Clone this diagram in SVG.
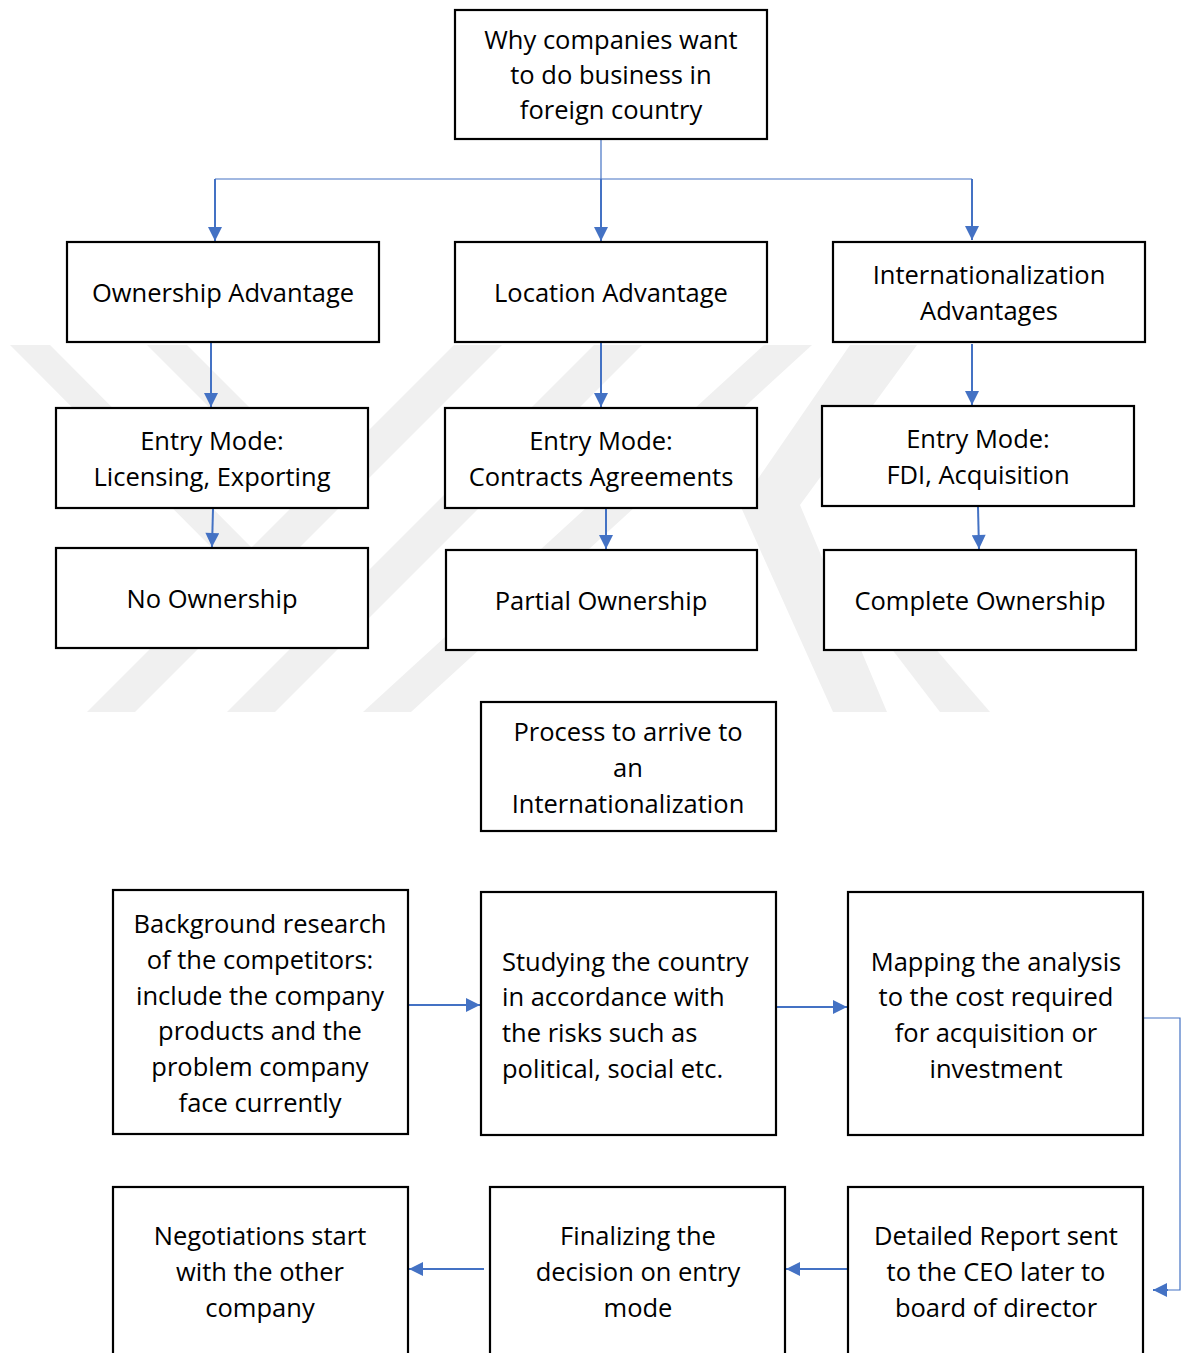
<svg xmlns="http://www.w3.org/2000/svg" width="1181" height="1353" viewBox="0 0 1181 1353">
<defs>
<style>
.box{fill:#fff;stroke:#000;stroke-width:2.2}
.t{font-family:"Open Sans","Noto Sans",sans-serif;font-size:25.5px;fill:#000;text-anchor:middle}
.tl{font-family:"Open Sans","Noto Sans",sans-serif;font-size:25.5px;fill:#000;text-anchor:start}
.c{stroke:#4472C4;stroke-width:2;fill:none}
.thin{stroke:#4472C4;stroke-width:1.2;fill:none}
.wm{fill:#f0f0f0}
</style>
<marker id="ah2" viewBox="0 0 10 10" refX="10" refY="5" markerWidth="7.5" markerHeight="7" orient="auto">
<path d="M0,0 L10,5 L0,10 z" fill="#4472C4"/>
</marker>
</defs>
<rect width="1181" height="1353" fill="#fff"/>
<g id="watermark">
<polygon class="wm" points="10,345 50,345 274,570 234,570"/>
<polygon class="wm" points="147,345 187,345 343,501 303,501"/>
<polygon class="wm" points="87,712 135,712 502,345 454,345"/>
<polygon class="wm" points="227,712 275,712 642,345 594,345"/>
<polygon class="wm" points="363,712 411,712 812,345 764,345"/>
<polygon class="wm" points="850,345 917,345 800,505 887,712 833,712 740,505"/>
<polygon class="wm" points="862,610 902,610 990,712 940,712"/>
</g>
<g id="connectors">
<line class="thin" x1="601" y1="139" x2="601" y2="179"/>
<line class="thin" x1="215" y1="179" x2="972" y2="179"/>
<line class="c" x1="215" y1="179" x2="215" y2="241" marker-end="url(#ah2)"/>
<line class="c" x1="601" y1="179" x2="601" y2="241" marker-end="url(#ah2)"/>
<line class="c" x1="972" y1="179" x2="972" y2="240" marker-end="url(#ah2)"/>
<line class="c" x1="211" y1="343" x2="211" y2="407" marker-end="url(#ah2)"/>
<line class="c" x1="601" y1="343" x2="601" y2="407" marker-end="url(#ah2)"/>
<line class="c" x1="972" y1="344" x2="972" y2="405" marker-end="url(#ah2)"/>
<line class="c" x1="213" y1="509" x2="212" y2="547" marker-end="url(#ah2)"/>
<line class="c" x1="606" y1="509" x2="606" y2="549" marker-end="url(#ah2)"/>
<line class="c" x1="978" y1="507" x2="979" y2="549" marker-end="url(#ah2)"/>
<line class="c" x1="409" y1="1005" x2="480" y2="1005" marker-end="url(#ah2)"/>
<line class="c" x1="777" y1="1007" x2="847" y2="1007" marker-end="url(#ah2)"/>
<polyline class="thin" points="1144,1018 1180,1018 1180,1290 1166,1290"/>
<line class="c" x1="1168" y1="1290" x2="1153" y2="1290" marker-end="url(#ah2)"/>
<line class="c" x1="847" y1="1269" x2="786" y2="1269" marker-end="url(#ah2)"/>
<line class="c" x1="484" y1="1269" x2="409" y2="1269" marker-end="url(#ah2)"/>
</g>
<g id="n-why"><rect class="box" x="455" y="10" width="312" height="129"/>
<text class="t" x="611" y="49">Why companies want</text><text class="t" x="611" y="84">to do business in</text><text class="t" x="611" y="119">foreign country</text></g>
<g id="n-ownership"><rect class="box" x="67" y="242" width="312" height="100"/>
<text class="t" x="223" y="302">Ownership Advantage</text></g>
<g id="n-location"><rect class="box" x="455" y="242" width="312" height="100"/>
<text class="t" x="611" y="302">Location Advantage</text></g>
<g id="n-intl"><rect class="box" x="833" y="242" width="312" height="100"/>
<text class="t" x="989" y="284">Internationalization</text><text class="t" x="989" y="320">Advantages</text></g>
<g id="n-entry1"><rect class="box" x="56" y="408" width="312" height="100"/>
<text class="t" x="212" y="450">Entry Mode:</text><text class="t" x="212" y="486">Licensing, Exporting</text></g>
<g id="n-entry2"><rect class="box" x="445" y="408" width="312" height="100"/>
<text class="t" x="601" y="450">Entry Mode:</text><text class="t" x="601" y="486">Contracts Agreements</text></g>
<g id="n-entry3"><rect class="box" x="822" y="406" width="312" height="100"/>
<text class="t" x="978" y="448">Entry Mode:</text><text class="t" x="978" y="484">FDI, Acquisition</text></g>
<g id="n-no"><rect class="box" x="56" y="548" width="312" height="100"/>
<text class="t" x="212" y="608">No Ownership</text></g>
<g id="n-partial"><rect class="box" x="446" y="550" width="311" height="100"/>
<text class="t" x="601" y="610">Partial Ownership</text></g>
<g id="n-complete"><rect class="box" x="824" y="550" width="312" height="100"/>
<text class="t" x="980" y="610">Complete Ownership</text></g>
<g id="n-process"><rect class="box" x="481" y="702" width="295" height="129"/>
<text class="t" x="628" y="741">Process to arrive to</text><text class="t" x="628" y="777">an</text><text class="t" x="628" y="813">Internationalization</text></g>
<g id="n-background"><rect class="box" x="113" y="890" width="295" height="244"/>
<text class="t" x="260" y="933">Background research</text><text class="t" x="260" y="969">of the competitors:</text><text class="t" x="260" y="1005">include the company</text><text class="t" x="260" y="1040">products and the</text><text class="t" x="260" y="1076">problem company</text><text class="t" x="260" y="1112">face currently</text></g>
<g id="n-studying"><rect class="box" x="481" y="892" width="295" height="243"/>
<text class="tl" x="502" y="971">Studying the country</text><text class="tl" x="502" y="1006">in accordance with</text><text class="tl" x="502" y="1042">the risks such as</text><text class="tl" x="502" y="1078">political, social etc.</text></g>
<g id="n-mapping"><rect class="box" x="848" y="892" width="295" height="243"/>
<text class="t" x="996" y="971">Mapping the analysis</text><text class="t" x="996" y="1006">to the cost required</text><text class="t" x="996" y="1042">for acquisition or</text><text class="t" x="996" y="1078">investment</text></g>
<g id="n-negotiations"><rect class="box" x="113" y="1187" width="295" height="200"/>
<text class="t" x="260" y="1245">Negotiations start</text><text class="t" x="260" y="1281">with the other</text><text class="t" x="260" y="1317">company</text></g>
<g id="n-finalizing"><rect class="box" x="490" y="1187" width="295" height="200"/>
<text class="t" x="638" y="1245">Finalizing the</text><text class="t" x="638" y="1281">decision on entry</text><text class="t" x="638" y="1317">mode</text></g>
<g id="n-detailed"><rect class="box" x="848" y="1187" width="295" height="200"/>
<text class="t" x="996" y="1245">Detailed Report sent</text><text class="t" x="996" y="1281">to the CEO later to</text><text class="t" x="996" y="1317">board of director</text></g>
</svg>
